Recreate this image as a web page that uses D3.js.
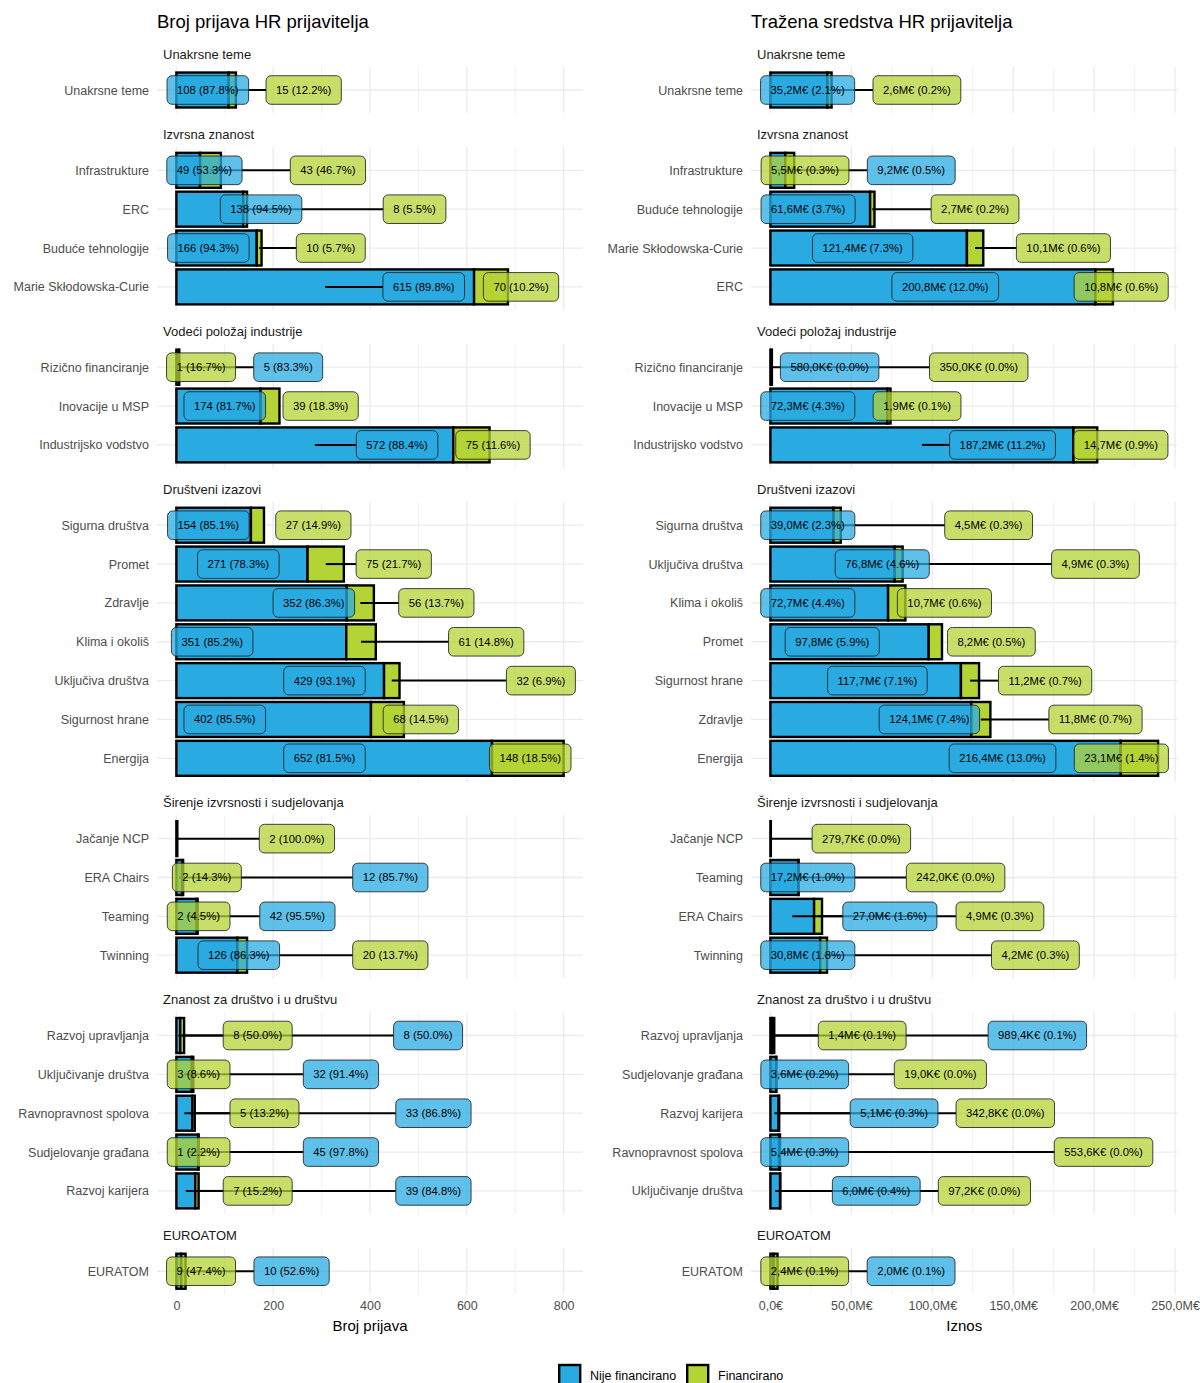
<!DOCTYPE html>
<html><head><meta charset="utf-8">
<script src="https://cdn.jsdelivr.net/npm/d3@7"></script>
<style>body{margin:0;background:#fff} svg{display:block;font-family:"Liberation Sans",Arial,Helvetica,sans-serif}</style>
</head><body><svg id="chart" width="1200" height="1383"></svg>
<script>
// ---------------- DATA ----------------
const groups = ["Unakrsne teme","Izvrsna znanost","Vodeći položaj industrije","Društveni izazovi","Širenje izvrsnosti i sudjelovanja","Znanost za društvo i u društvu","EUROATOM"];
const groupSizes = [1,4,3,7,4,5,1];
const seriesNames = ["Nije financirano","Financirano"];

// Left: number of applications (top to bottom within each group)
const countCategories = ["Unakrsne teme","Infrastrukture","ERC","Buduće tehnologije","Marie Skłodowska-Curie","Rizično financiranje","Inovacije u MSP","Industrijsko vodstvo","Sigurna društva","Promet","Zdravlje","Klima i okoliš","Uključiva društva","Sigurnost hrane","Energija","Jačanje NCP","ERA Chairs","Teaming","Twinning","Razvoj upravljanja","Uključivanje društva","Ravnopravnost spolova","Sudjelovanje građana","Razvoj karijera","EURATOM"];
const countNotFunded = [108,49,138,166,615,5,174,572,154,271,352,351,429,402,652,0,12,42,126,8,32,33,45,39,10];
const countFunded    = [15,43,8,10,70,1,39,75,27,75,56,61,32,68,148,2,2,2,20,8,3,5,1,7,9];
// repelled label positions (data units)
const countLabelAtNotFunded = [65,58,175,66,511,231,100,456,66,128,284,74,306,100,306,null,442,250,129,520,340,531,340,531,238];
const countLabelAtFunded    = [263,313,492,319,712,51,298,654,283,449,537,640,753,505,731,249,63,46,442,168,46,182,46,168,51];

// Right: requested amount in M€ (top to bottom within each group)
const amountCategories = ["Unakrsne teme","Infrastrukture","Buduće tehnologije","Marie Skłodowska-Curie","ERC","Rizično financiranje","Inovacije u MSP","Industrijsko vodstvo","Sigurna društva","Uključiva društva","Klima i okoliš","Promet","Sigurnost hrane","Zdravlje","Energija","Jačanje NCP","Teaming","ERA Chairs","Twinning","Razvoj upravljanja","Sudjelovanje građana","Razvoj karijera","Ravnopravnost spolova","Uključivanje društva","EURATOM"];
const amountNotFunded = [35.2,9.2,61.6,121.4,200.8,0.58,72.3,187.2,39.0,76.8,72.7,97.8,117.7,124.1,216.4,0,17.2,27.0,30.8,0.9894,3.6,5.1,5.4,6.0,2.0];
const amountFunded    = [2.6,5.5,2.7,10.1,10.8,0.35,1.9,14.7,4.5,4.9,10.7,8.2,11.2,11.8,23.1,0.2797,0.242,4.9,4.2,1.4,0.019,0.3428,0.5536,0.0972,2.4];
const amountPctNotFunded = [2.1,0.5,3.7,7.3,12.0,0.0,4.3,11.2,2.3,4.6,4.4,5.9,7.1,7.4,13.0,null,1.0,1.6,1.8,0.1,0.2,0.3,0.3,0.4,0.1];
const amountPctFunded    = [0.2,0.3,0.2,0.6,0.6,0.0,0.1,0.9,0.3,0.3,0.6,0.5,0.7,0.7,1.4,0.0,0.0,0.3,0.3,0.1,0.0,0.0,0.0,0.0,0.1];
const amountLabelAtNotFunded = [23,87,23.3,57,108,36.6,23.1,143.4,23.1,69.1,23.1,38.2,66.1,98.2,143.4,null,23.1,73.8,23.1,164.9,21.2,76.4,21.2,65.4,86.9];
const amountLabelAtFunded    = [90.5,21.4,126.4,181,216.7,128.7,90.6,216.5,134.8,200.8,107.5,136.5,169.7,200.8,216.8,56.2,114.4,141.8,163.7,56.7,105,145.1,205.8,132.2,21.2];

const countTicks = [0,200,400,600,800];
const countMinor = [100,300,500,700];
const amountTicks = [0,50,100,150,200,250];
const amountMinor = [25,75,125,175,225];

// ---------------- STYLE / LAYOUT ----------------
const BLUE = "#29ABE2", GREEN = "#B4D335";
const svg = d3.select("#chart");
const U = 38.85, GAP = 33.7, TOP0 = 66.7;
const MIN_SEG = 24;
const panels = [];
{ let y = TOP0, s = 0;
  groupSizes.forEach((n,i)=>{ const h=(n+0.2)*U; panels.push({name:groups[i], n, top:y, h, start:s}); y += h + GAP; s += n; }); }
const plotBottom = panels[panels.length-1].top + panels[panels.length-1].h;

const fmtAmount = v => v >= 1 ? v.toFixed(1).replace(".", ",") + "M€" : (v*1000).toFixed(1).replace(".", ",") + "K€";

function drawChart(cfg){
  const g = svg.append("g");
  const totals = cfg.nf.map((v,i)=>v+cfg.f[i]);
  const maxT = d3.max(totals);
  const x = d3.scaleLinear().domain([-0.05*maxT, 1.05*maxT]).range([cfg.left, cfg.right]);

  g.append("text").attr("x", cfg.left).attr("y", 22).attr("dy","0.35em")
    .style("font-size","18.5px").attr("fill","#000").text(cfg.title);

  const gridL = g.append("g"), barL = g.append("g"), segL = g.append("g"), labL = g.append("g");

  panels.forEach(p=>{
    const idx = d3.range(p.start, p.start+p.n);
    const y = d3.scalePoint().domain(idx).range([p.top, p.top+p.h]).padding(0.6);
    const bh = 0.9*y.step();
    // strip
    g.append("text").attr("x", cfg.left+6).attr("y", p.top-12.7).attr("dy","0.35em")
      .style("font-size","13px").attr("fill","#1a1a1a").text(p.name);
    // grid
    cfg.minor.forEach(t=>gridL.append("line").attr("x1",x(t)).attr("x2",x(t)).attr("y1",p.top).attr("y2",p.top+p.h).attr("stroke","#f0f0f0").attr("stroke-width",1));
    cfg.ticks.forEach(t=>gridL.append("line").attr("x1",x(t)).attr("x2",x(t)).attr("y1",p.top).attr("y2",p.top+p.h).attr("stroke","#ebebeb").attr("stroke-width",1.3));
    idx.forEach(i=>gridL.append("line").attr("x1",cfg.left).attr("x2",cfg.right).attr("y1",y(i)).attr("y2",y(i)).attr("stroke","#ebebeb").attr("stroke-width",1.3));
    // y axis
    const ax = g.append("g").attr("transform",`translate(${cfg.left},0)`)
      .call(d3.axisLeft(y).tickSize(0).tickPadding(8).tickFormat(i=>cfg.cats[i]));
    ax.select(".domain").remove();
    ax.selectAll("text").style("font-size","12.5px").attr("fill","#4d4d4d").style("font-family",'"Liberation Sans",Arial,sans-serif');

    idx.forEach(i=>{
      const yc = y(i), nf = cfg.nf[i], f = cfg.f[i];
      if (nf > 0) barL.append("rect").attr("x",x(0)).attr("width",x(nf)-x(0)).attr("y",yc-bh/2).attr("height",bh)
        .attr("fill",BLUE).attr("stroke","#000").attr("stroke-width",2.4);
      if (f > 0) barL.append("rect").attr("x",x(nf)).attr("width",x(nf+f)-x(nf)).attr("y",yc-bh/2).attr("height",bh)
        .attr("fill",GREEN).attr("stroke","#000").attr("stroke-width",2.4);
      const items = [];
      if (nf > 0) items.push({anchor:nf/2, at:cfg.posNF[i], text:cfg.labelNF(i), fill:BLUE});
      if (f > 0) items.push({anchor:nf+f/2, at:cfg.posF[i], text:cfg.labelF(i), fill:GREEN});
      items.forEach(it=>{
        const lg = labL.append("g");
        const rect = lg.append("rect");
        const tx = lg.append("text").attr("x", x(it.at)).attr("y", yc).attr("dy","0.35em")
          .attr("text-anchor","middle").style("font-size","11.3px").attr("fill","#000").text(it.text);
        const tw = tx.node().getComputedTextLength();
        const w = tw + 20, h = 28.6, cx = x(it.at);
        rect.attr("x",cx-w/2).attr("y",yc-h/2).attr("width",w).attr("height",h).attr("rx",5).attr("ry",5)
          .attr("fill",it.fill).attr("fill-opacity",0.75).attr("stroke","#222").attr("stroke-opacity",0.85).attr("stroke-width",1);
        const a = x(it.anchor), l = cx-w/2, r = cx+w/2;
        let s1=null, s2=null;
        if (a < l) { s1=a; s2=l; } else if (a > r) { s1=r; s2=a; }
        if (s1 !== null && s2 - s1 > MIN_SEG)
          segL.append("line").attr("x1",s1).attr("x2",s2).attr("y1",yc).attr("y2",yc).attr("stroke","#000").attr("stroke-width",2);
      });
    });
  });

  // x axis
  const xa = g.append("g").attr("transform",`translate(0,${plotBottom})`)
    .call(d3.axisBottom(x).tickValues(cfg.ticks).tickSize(0).tickPadding(7).tickFormat(cfg.tickFormat));
  xa.select(".domain").remove();
  xa.selectAll("text").style("font-size","12.5px").attr("fill","#4d4d4d").style("font-family",'"Liberation Sans",Arial,sans-serif');
  g.append("text").attr("x",(cfg.left+cfg.right)/2).attr("y",plotBottom+31).attr("dy","0.35em")
    .attr("text-anchor","middle").style("font-size","15px").attr("fill","#000").text(cfg.axisTitle);
}

drawChart({
  left:157, right:583, title:"Broj prijava HR prijavitelja", axisTitle:"Broj prijava",
  cats:countCategories, nf:countNotFunded, f:countFunded,
  posNF:countLabelAtNotFunded, posF:countLabelAtFunded,
  labelNF:i=>`${countNotFunded[i]} (${(100*countNotFunded[i]/(countNotFunded[i]+countFunded[i])).toFixed(1)}%)`,
  labelF:i=>`${countFunded[i]} (${(100*countFunded[i]/(countNotFunded[i]+countFunded[i])).toFixed(1)}%)`,
  ticks:countTicks, minor:countMinor, tickFormat:d=>String(d)
});
drawChart({
  left:751, right:1177.5, title:"Tražena sredstva HR prijavitelja", axisTitle:"Iznos",
  cats:amountCategories, nf:amountNotFunded, f:amountFunded,
  posNF:amountLabelAtNotFunded, posF:amountLabelAtFunded,
  labelNF:i=>`${fmtAmount(amountNotFunded[i])} (${amountPctNotFunded[i].toFixed(1)}%)`,
  labelF:i=>`${fmtAmount(amountFunded[i])} (${amountPctFunded[i].toFixed(1)}%)`,
  ticks:amountTicks, minor:amountMinor, tickFormat:d=>d===0?"0,0€":d.toFixed(1).replace(".",",")+"M€"
});

// legend
const leg = svg.append("g");
const legX = [558, 686], legText = [590, 718], legFill = [BLUE, GREEN];
seriesNames.forEach((s,i)=>{
  leg.append("rect").attr("x",legX[i]+1.2).attr("y",1365).attr("width",21).attr("height",21)
    .attr("fill",legFill[i]).attr("stroke","#000").attr("stroke-width",2.4);
  leg.append("text").attr("x",legText[i]).attr("y",1376).attr("dy","0.35em")
    .style("font-size","12.5px").attr("fill","#000").text(s);
});
</script></body></html>
